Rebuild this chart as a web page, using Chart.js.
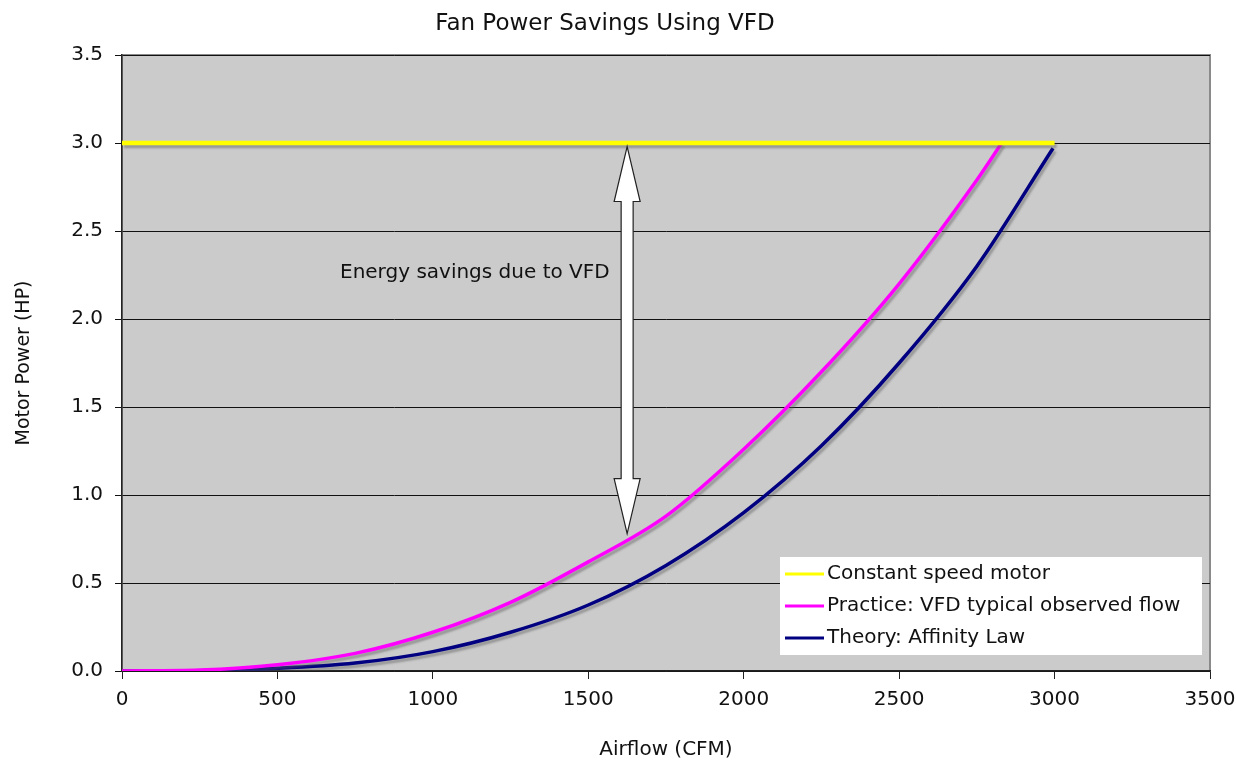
<!DOCTYPE html>
<html lang="en">
<head>
  <meta charset="UTF-8">
  <title>Fan Power Savings Using VFD</title>
  <script src="https://cdn.jsdelivr.net/npm/chart.js"></script>
  <style>
    body { margin: 0; background: #fff; }
  </style>
</head>
<body>
  <canvas id="fanChart" width="1236" height="762"></canvas>
  <script>
    // data
    const constAirflow = [0, 500, 1000, 1500, 2000, 2500, 3000];
    const constPower = [3.0, 3.0, 3.0, 3.0, 3.0, 3.0, 3.0];

    const practiceAirflow = [0, 250, 500, 750, 1000, 1250, 1500, 1750, 2000, 2250, 2500, 2750, 2830];
    const practicePower = [0, 0.005, 0.035, 0.1, 0.22, 0.39, 0.62, 0.88, 1.26, 1.7, 2.2, 2.79, 3.0];

    const theoryAirflow = [0, 250, 500, 750, 1000, 1250, 1500, 1750, 2000, 2250, 2500, 2750, 2995];
    const theoryPower = [0, 0.002, 0.015, 0.045, 0.11, 0.22, 0.375, 0.6, 0.9, 1.28, 1.75, 2.3, 2.97];

    const seriesLabels = ['Constant speed motor', 'Practice: VFD typical observed flow', 'Theory: Affinity Law'];
    const seriesColors = ['#ffff00', '#ff00ff', '#000080'];

    const xTicks = [0, 500, 1000, 1500, 2000, 2500, 3000, 3500];
    const yTicks = [0, 0.5, 1.0, 1.5, 2.0, 2.5, 3.0, 3.5];

    // arrow annotation (data units)
    const arrowX = 1625;
    const arrowTop = 2.98;
    const arrowBottom = 0.78;
    const noteText = 'Energy savings due to VFD';
    const noteX = 1135;
    const noteY = 2.26;

    const font = 'DejaVu Sans';

    function pairs(xs, ys) {
      return xs.map((x, i) => ({ x: x, y: ys[i] }));
    }

    const plotBg = {
      id: 'plotBg',
      beforeDraw(chart) {
        const { ctx, chartArea: a } = chart;
        ctx.save();
        ctx.fillStyle = '#cbcbcb';
        ctx.fillRect(a.left, a.top, a.right - a.left, a.bottom - a.top);
        ctx.strokeStyle = '#8a8a8a';
        ctx.lineWidth = 2;
        ctx.strokeRect(a.left, a.top, a.right - a.left, a.bottom - a.top);
        ctx.restore();
      }
    };

    const lineShadow = {
      id: 'lineShadow',
      beforeDatasetsDraw(chart) {
        const ctx = chart.ctx;
        ctx.save();
        ctx.shadowColor = 'rgba(90,90,90,0.45)';
        ctx.shadowOffsetX = 2;
        ctx.shadowOffsetY = 3;
        ctx.shadowBlur = 2;
      },
      afterDatasetsDraw(chart) {
        chart.ctx.restore();
      }
    };

    const extras = {
      id: 'extras',
      afterDraw(chart) {
        const { ctx, scales: { x, y } } = chart;
        ctx.save();

        // double-headed arrow
        const cx = x.getPixelForValue(arrowX);
        const t = y.getPixelForValue(arrowTop);
        const b = y.getPixelForValue(arrowBottom);
        const sw = 6, hw = 13, hl = 55;
        ctx.beginPath();
        ctx.moveTo(cx, t);
        ctx.lineTo(cx + hw, t + hl);
        ctx.lineTo(cx + sw, t + hl);
        ctx.lineTo(cx + sw, b - hl);
        ctx.lineTo(cx + hw, b - hl);
        ctx.lineTo(cx, b);
        ctx.lineTo(cx - hw, b - hl);
        ctx.lineTo(cx - sw, b - hl);
        ctx.lineTo(cx - sw, t + hl);
        ctx.lineTo(cx - hw, t + hl);
        ctx.closePath();
        ctx.fillStyle = '#ffffff';
        ctx.fill();
        ctx.strokeStyle = '#222';
        ctx.lineWidth = 1.2;
        ctx.stroke();

        // note text
        ctx.fillStyle = '#111';
        ctx.font = '20px "' + font + '"';
        ctx.textAlign = 'center';
        ctx.textBaseline = 'middle';
        ctx.fillText(noteText, x.getPixelForValue(noteX), y.getPixelForValue(noteY));

        // legend box inside plot
        const lx = 780, ly = 557, lw = 422, lh = 98;
        ctx.fillStyle = '#ffffff';
        ctx.fillRect(lx, ly, lw, lh);
        ctx.textAlign = 'left';
        seriesLabels.forEach((lab, i) => {
          const yy = ly + 17 + i * 32;
          ctx.strokeStyle = seriesColors[i];
          ctx.lineWidth = 3;
          ctx.beginPath();
          ctx.moveTo(lx + 5, yy);
          ctx.lineTo(lx + 44, yy);
          ctx.stroke();
          ctx.fillStyle = '#111';
          ctx.fillText(lab, lx + 47, yy);
        });
        ctx.restore();
      }
    };

    const ctx = document.getElementById('fanChart').getContext('2d');
    new Chart(ctx, {
      type: 'line',
      data: {
        datasets: [
          {
            label: seriesLabels[0],
            data: pairs(constAirflow, constPower),
            borderColor: seriesColors[0],
            borderWidth: 4.5,
            pointRadius: 0
          },
          {
            label: seriesLabels[1],
            data: pairs(practiceAirflow, practicePower),
            borderColor: seriesColors[1],
            borderWidth: 3.5,
            pointRadius: 0,
            cubicInterpolationMode: 'monotone'
          },
          {
            label: seriesLabels[2],
            data: pairs(theoryAirflow, theoryPower),
            borderColor: seriesColors[2],
            borderWidth: 3.5,
            pointRadius: 0,
            cubicInterpolationMode: 'monotone'
          }
        ]
      },
      options: {
        responsive: false,
        animation: false,
        layout: { padding: { top: 0, right: 26, bottom: 0, left: 0 } },
        plugins: {
          legend: { display: false },
          tooltip: { enabled: false },
          title: {
            display: true,
            text: 'Fan Power Savings Using VFD',
            color: '#111',
            font: { family: font, size: 23, weight: 'normal' },
            padding: { top: 10, bottom: 17.4 }
          }
        },
        scales: {
          x: {
            type: 'linear',
            min: 0,
            max: 3500,
            afterBuildTicks: (s) => { s.ticks = xTicks.map(v => ({ value: v })); },
            afterFit: (s) => { s.height = 91; s.paddingRight = 0; s.paddingLeft = 0; },
            ticks: {
              color: '#111',
              font: { family: font, size: 20 },
              padding: 9,
              callback: (v) => String(v)
            },
            grid: { drawOnChartArea: false, color: '#222', tickLength: 8 },
            border: { color: '#222', width: 1.5 },
            title: {
              display: true,
              text: 'Airflow (CFM)',
              color: '#111',
              font: { family: font, size: 20 },
              padding: { top: 0, bottom: 0 }
            }
          },
          y: {
            min: 0,
            max: 3.5,
            afterBuildTicks: (s) => { s.ticks = yTicks.map(v => ({ value: v })); },
            afterFit: (s) => { s.width = 122; },
            ticks: {
              color: '#111',
              font: { family: font, size: 20 },
              padding: 12,
              callback: (v) => Number(v).toFixed(1)
            },
            grid: { color: '#111', lineWidth: 1, tickLength: 7 },
            border: { color: '#222', width: 1.5 },
            title: {
              display: true,
              text: 'Motor Power (HP)',
              color: '#111',
              font: { family: font, size: 19 },
              padding: { top: 13, bottom: 0 }
            }
          }
        }
      },
      plugins: [plotBg, lineShadow, extras]
    });
  </script>
</body>
</html>
